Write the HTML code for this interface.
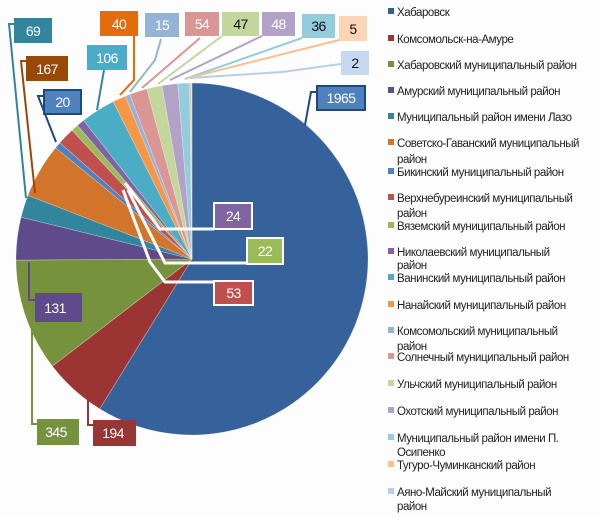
<!DOCTYPE html>
<html><head><meta charset="utf-8"><style>
body{margin:0;background:#fff;}
svg text{font-family:"Liberation Sans",sans-serif;}
.lg{font-size:11.5px;fill:#222;letter-spacing:-0.45px}
.bl{font-size:14px;fill:#fff;text-anchor:middle;letter-spacing:-0.6px}
.bd{font-size:14px;fill:#111;text-anchor:middle;letter-spacing:-0.6px}
</style></head><body>
<svg id="s" width="600" height="516" viewBox="0 0 600 516" xmlns="http://www.w3.org/2000/svg">
<rect width="600" height="516" fill="#fdfdfd"/>
<g id="pie"></g>
<g fill="none" stroke-width="2">
<polyline points="14,24 9,24 26,198" stroke="#31859c"/>
<polyline points="26,61 21,61 35,193" stroke="#984807"/>
<polyline points="44,96 38,96 56,142" stroke="#1f497d"/>
<polyline points="134,36 134,80 120,95" stroke="#e46c0a"/>
<polyline points="161,39 155,60 130,92" stroke="#95b3d7"/>
<polyline points="200,38 142,88" stroke="#d99694"/>
<polyline points="222,36 158,84" stroke="#c3d69b"/>
<polyline points="262,36 170,80" stroke="#b3a2c7"/>
<polyline points="302,38 185,79" stroke="#93cddd"/>
<polyline points="339,40 188,78" stroke="#fac08f"/>
<polyline points="341,64 282,72 190,78" stroke="#b9cde5"/>
<polyline points="104,70 97,110" stroke="#31859c"/>
<polyline points="317,92 311,92 305,125" stroke="#1f497d"/>
<polyline points="214,229 160,229 125,183" stroke="#fff" stroke-width="3"/>
<polyline points="247,263 165,263 128,190" stroke="#fff" stroke-width="3"/>
<polyline points="214,282 165,282 150,262 123,190" stroke="#fff" stroke-width="3"/>
<polyline points="35,300 29,300 29,262" stroke="#5f4b8b"/>
<polyline points="37,424 32,424 32,330" stroke="#76923c"/>
<polyline points="93,425 88,425 88,400" stroke="#953735"/>
</g>
<g>
<rect x="14" y="18" width="38" height="25" fill="#31859c"/><text class="bl" x="33" y="36">69</text>
<rect x="26" y="56" width="42" height="25" fill="#984807"/><text class="bl" x="47" y="74">167</text>
<rect x="44" y="90" width="37" height="24" fill="#4f81bd" stroke="#1f497d" stroke-width="2"/><text class="bl" x="62.5" y="107">20</text>
<rect x="100" y="11" width="38" height="25" fill="#e46c0a"/><text class="bl" x="119" y="29">40</text>
<rect x="87" y="45" width="40" height="25" fill="#4bacc6"/><text class="bl" x="107" y="63">106</text>
<rect x="145" y="13" width="34" height="24" fill="#95b3d7"/><text class="bl" x="162" y="30">15</text>
<rect x="185" y="12" width="34" height="24" fill="#d99694"/><text class="bl" x="202" y="29">54</text>
<rect x="222" y="12" width="37" height="24" fill="#c3d69b"/><text class="bd" x="240.5" y="29">47</text>
<rect x="262" y="12" width="33" height="24" fill="#b3a2c7"/><text class="bl" x="278.5" y="29">48</text>
<rect x="302" y="14" width="33" height="24" fill="#93cddd"/><text class="bd" x="318.5" y="31">36</text>
<rect x="339" y="16" width="28" height="25" fill="#fcd5b5"/><text class="bd" x="353" y="34">5</text>
<rect x="341" y="51" width="28" height="24" fill="#c6d9f1"/><text class="bd" x="355" y="68">2</text>
<rect x="317" y="86" width="48" height="24" fill="#4f81bd" stroke="#1f497d" stroke-width="2"/><text class="bl" x="341" y="103">1965</text>
<rect x="214" y="203" width="38" height="26" fill="#8064a2" stroke="#fff" stroke-width="2"/><text class="bl" x="233" y="221">24</text>
<rect x="247" y="238" width="36" height="26" fill="#9bbb59" stroke="#fff" stroke-width="2"/><text class="bl" x="265" y="256">22</text>
<rect x="214" y="281" width="39" height="24" fill="#c0504d" stroke="#fff" stroke-width="2"/><text class="bl" x="233.5" y="298">53</text>
<rect x="35" y="293" width="47" height="29" fill="#5f4b8b"/><text class="bl" x="55" y="313">131</text>
<rect x="37" y="419" width="42" height="26" fill="#76923c"/><text class="bl" x="56" y="437">345</text>
<rect x="93" y="420" width="43" height="26" fill="#953735"/><text class="bl" x="113" y="438">194</text>
</g>
<g>
<rect x="388" y="8" width="6" height="6" fill="#376092"/><text class="lg" x="397" y="16">Хабаровск</text>
<rect x="388" y="35" width="6" height="6" fill="#953735"/><text class="lg" x="397" y="43">Комсомольск-на-Амуре</text>
<rect x="388" y="61" width="6" height="6" fill="#76923c"/><text class="lg" x="397" y="69">Хабаровский муниципальный район</text>
<rect x="388" y="87" width="6" height="6" fill="#5f4b8b"/><text class="lg" x="397" y="95">Амурский муниципальный район</text>
<rect x="388" y="113" width="6" height="6" fill="#31859c"/><text class="lg" x="397" y="121">Муниципальный район имени Лазо</text>
<rect x="388" y="139" width="6" height="6" fill="#d2742a"/><text class="lg" x="397" y="147">Советско-Гаванский муниципальный</text><text class="lg" x="397" y="163">район</text>
<rect x="388" y="168" width="6" height="6" fill="#4f81bd"/><text class="lg" x="397" y="176">Бикинский муниципальный район</text>
<rect x="388" y="194" width="6" height="6" fill="#c0504d"/><text class="lg" x="397" y="202">Верхнебуреинский муниципальный</text><text class="lg" x="397" y="217">район</text>
<rect x="388" y="222" width="6" height="6" fill="#9bbb59"/><text class="lg" x="397" y="230">Вяземский муниципальный район</text>
<rect x="388" y="248" width="6" height="6" fill="#8064a2"/><text class="lg" x="397" y="256">Николаевский муниципальный</text><text class="lg" x="397" y="269">район</text>
<rect x="388" y="274" width="6" height="6" fill="#4bacc6"/><text class="lg" x="397" y="282">Ванинский муниципальный район</text>
<rect x="388" y="301" width="6" height="6" fill="#f79646"/><text class="lg" x="397" y="309">Нанайский муниципальный район</text>
<rect x="388" y="327" width="6" height="6" fill="#95b3d7"/><text class="lg" x="397" y="335">Комсомольский муниципальный</text><text class="lg" x="397" y="350">район</text>
<rect x="388" y="353" width="6" height="6" fill="#d99694"/><text class="lg" x="397" y="361">Солнечный муниципальный район</text>
<rect x="388" y="380" width="6" height="6" fill="#c3d69b"/><text class="lg" x="397" y="388">Ульчский муниципальный район</text>
<rect x="388" y="407" width="6" height="6" fill="#b3a2c7"/><text class="lg" x="397" y="415">Охотский муниципальный район</text>
<rect x="388" y="434" width="6" height="6" fill="#93cddd"/><text class="lg" x="397" y="442">Муниципальный район имени П.</text><text class="lg" x="397" y="456">Осипенко</text>
<rect x="388" y="461" width="6" height="6" fill="#fac08f"/><text class="lg" x="397" y="469">Тугуро-Чуминканский район</text>
<rect x="388" y="488" width="6" height="6" fill="#b9cde5"/><text class="lg" x="397" y="496">Аяно-Майский муниципальный</text><text class="lg" x="397" y="510">район</text>
</g>
</svg>
<script>
var v=[1965,194,345,131,69,167,20,53,22,24,106,40,15,54,47,48,36,5,2];
var c=["#36629b","#9b3534","#76923c","#5f4b8b","#31859c","#d2742a","#4f81bd","#c0504d","#9bbb59","#8064a2","#4bacc6","#f79646","#95b3d7","#d99694","#c3d69b","#b3a2c7","#93cddd","#fac08f","#b9cde5"];
var t=0;v.forEach(function(x){t+=x});
var cx=192,cy=259,r=176,a=0,g=document.getElementById("pie"),h="";
function p(d){var q=d/180*Math.PI;return (cx+r*Math.sin(q)).toFixed(2)+","+(cy-r*Math.cos(q)).toFixed(2);}
v.forEach(function(x,i){var b=a+x/t*360;h+='<path d="M'+cx+','+cy+' L'+p(a)+' A'+r+','+r+' 0 '+(b-a>180?1:0)+' 1 '+p(b)+' Z" fill="'+c[i]+'" stroke="rgba(255,255,255,0.4)" stroke-width="0.6"/>';a=b;});
g.innerHTML=h;
</script>
</body></html>
